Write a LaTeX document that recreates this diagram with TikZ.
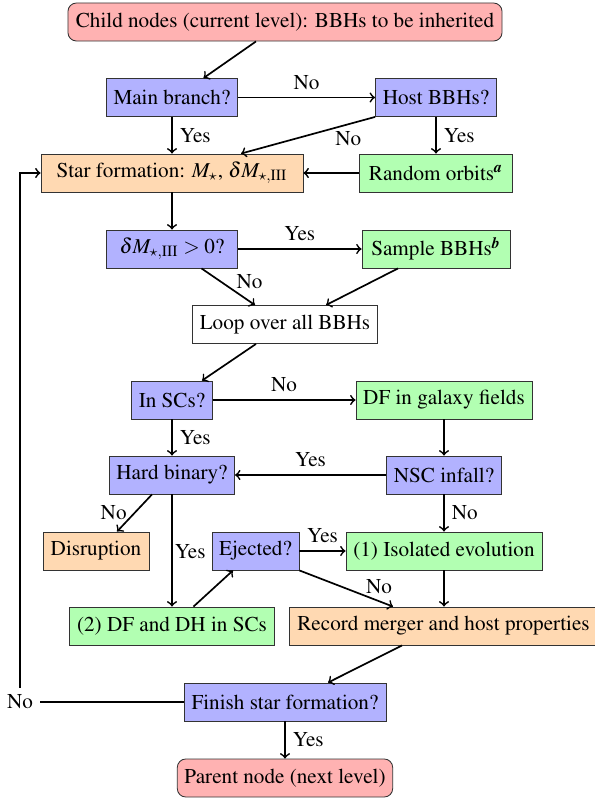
\documentclass[tikz,border=0pt]{standalone}
\usepackage[T1]{fontenc}
\usepackage{mathptmx}
\usetikzlibrary{calc}
\tikzset{
  fcbox/.style={draw=black!80, minimum height=17.96pt, inner sep=3.33pt, font=\fontsize{10}{12}\selectfont},
  redbox/.style={fcbox, fill=red!30, rounded corners=4pt},
  bluebox/.style={fcbox, fill=blue!30},
  greenbox/.style={fcbox, fill=green!30},
  orangebox/.style={fcbox, fill=orange!30},
  whitebox/.style={fcbox, fill=white},
  arr/.style={->, thick},
  lbl/.style={font=\fontsize{10}{12}\selectfont},
}
\begin{document}
\begin{tikzpicture}[x=0.4725pt, y=-0.4725pt]
\useasboundingbox (0,0) rectangle (594,798);
% nodes
\node[redbox, minimum width=205.1pt] (child) at (285,22) {Child nodes (current level): BBHs to be inherited};
\node[bluebox, minimum width=61.9pt] (main) at (172,97.5) {Main branch?};
\node[bluebox, minimum width=57.2pt] (host) at (436,97.5) {Host BBHs?};
\node[orangebox, minimum width=123.8pt] (star) at (172,173) {Star formation: $M_\star$, $\delta M_{\star,\mathrm{III}}$};
\node[greenbox, minimum width=72.3pt] (rand) at (436,173) {Random orbits\textsuperscript{\textbf{\textit{a}}}};
\node[bluebox, minimum width=61.9pt] (dm) at (172,249) {$\delta M_{\star,\mathrm{III}}>0$?};
\node[greenbox, minimum width=69.9pt] (sample) at (436,249) {Sample BBHs\textsuperscript{\textbf{\textit{b}}}};
\node[whitebox, minimum width=86.9pt] (loop) at (285,324.5) {Loop over all BBHs};
\node[bluebox, minimum width=37.8pt] (insc) at (172,400) {In SCs?};
\node[greenbox, minimum width=83.2pt] (dfg) at (444,400) {DF in galaxy fields};
\node[bluebox, minimum width=59.1pt] (hard) at (172,475) {Hard binary?};
\node[bluebox, minimum width=54.3pt] (nsc) at (444,475) {NSC infall?};
\node[orangebox, minimum width=50.1pt] (disr) at (96,551) {Disruption};
\node[bluebox, minimum width=41.1pt] (ejec) at (255.5,551) {Ejected?};
\node[greenbox, minimum width=92.6pt] (iso) at (444,551) {(1) Isolated evolution};
\node[greenbox, minimum width=96.9pt] (dfsc) at (172,626) {(2) DF and DH in SCs};
\node[orangebox, minimum width=145.5pt] (rec) at (443.5,626) {Record merger and host properties};
\node[bluebox, minimum width=95.4pt] (fin) at (285,702) {Finish star formation?};
\node[redbox, minimum width=101.1pt] (par) at (285,778) {Parent node (next level)};
\node[lbl, inner sep=3.33pt] (nolbl) at (20,702) {No};
% connectors
\draw[arr] ($(child.south)+(-29,0)$) -- ($(main.north)+(31.5,0)$);
\draw[arr] (main.east) -- node[lbl, above]{No} (host.west);
\draw[arr] (main.south) -- node[lbl, right]{Yes} (star.north);
\draw[arr] (host.south west) -- node[lbl, pos=0.2, below]{No} ($(star.north)+(69,0)$);
\draw[arr] (host.south) -- node[lbl, right]{Yes} (rand.north);
\draw[arr] (rand.west) -- (star.east);
\draw[arr] (star.south) -- (dm.north);
\draw[arr] (dm.east) -- node[lbl, above]{Yes} (sample.west);
\draw[arr] ($(dm.south)+(29.5,0)$) -- node[lbl, pos=0.35, right=4pt]{No} ($(loop.north)+(-30,0)$);
\draw[arr] ($(sample.south)+(-38,0)$) -- ($(loop.north)+(41,0)$);
\draw[arr] ($(loop.south)+(-29,0)$) -- ($(insc.north)+(30,0)$);
\draw[arr] (insc.east) -- node[lbl, above]{No} (dfg.west);
\draw[arr] (insc.south) -- node[lbl, right]{Yes} (hard.north);
\draw[arr] (dfg.south) -- (nsc.north);
\draw[arr] (nsc.west) -- node[lbl, above]{Yes} (hard.east);
\draw[arr] (nsc.south) -- node[lbl, right]{No} (iso.north);
\draw[arr] ($(hard.south)+(-20,0)$) -- node[lbl, left]{No} ($(disr.north)+(21,0)$);
\draw[arr] (hard.south) -- node[lbl, right=-2.4pt, yshift=-0.6pt]{Yes} (dfsc.north);
\draw[arr] ($(dfsc.north)+(21.5,0)$) -- ($(ejec.south)+(-22.5,0)$);
\draw[arr] (ejec.east) -- node[lbl, above]{Yes} (iso.west);
\draw[arr] (ejec.south east) -- node[lbl, pos=0.85, above]{No} ($(rec.north)+(-50.5,0)$);
\draw[arr] (iso.south) -- (iso.south |- rec.north);
\draw[arr] ($(rec.south)+(-41.5,0)$) -- ($(fin.north)+(43,0)$);
\draw[arr] (fin.south) -- node[lbl, right]{Yes} (par.north);
\draw[thick] (fin.west) -- (nolbl.east);
\draw[arr] (nolbl.north) |- (star.west);
\end{tikzpicture}
\end{document}
